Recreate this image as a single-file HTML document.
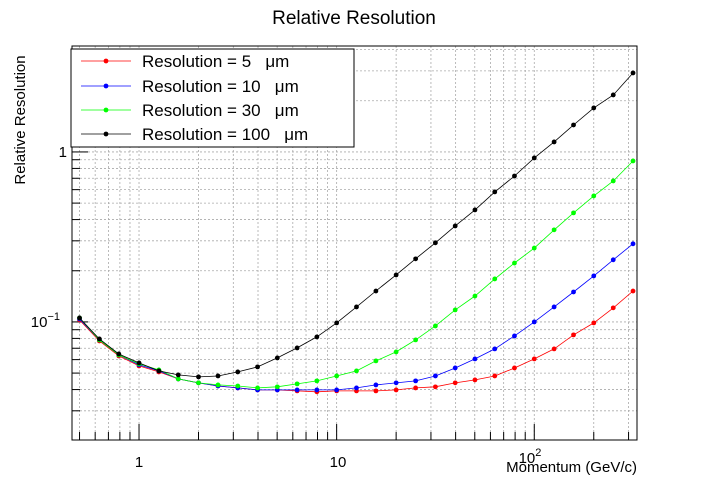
<!DOCTYPE html>
<html><head><meta charset="utf-8"><style>
body{margin:0;background:#fff;}
svg{display:block;font-family:"Liberation Sans",sans-serif;}
text{white-space:pre;}
</style></head><body>
<svg id="chart" width="708" height="489" viewBox="0 0 708 489" xmlns="http://www.w3.org/2000/svg">
<rect x="0" y="0" width="708" height="489" fill="#fff"/>
<text x="354" y="24" text-anchor="middle" font-size="19" fill="#000">Relative Resolution</text>
<g id="grid"></g>
<g id="ticks"></g>
<g id="series"></g>
<rect x="72" y="46" width="565" height="394" fill="none" stroke="#000" stroke-width="1"/>
<text x="139" y="467" text-anchor="middle" font-size="15">1</text>
<text x="338" y="467" text-anchor="middle" font-size="15">10</text>
<text x="530" y="463" text-anchor="middle" font-size="15">10<tspan dy="-7" font-size="11">2</tspan></text>
<text x="637" y="472" text-anchor="end" font-size="15">Momentum (GeV/c)</text>
<text x="67" y="157" text-anchor="end" font-size="15">1</text>
<text x="60" y="327" text-anchor="end" font-size="15">10<tspan dy="-7" font-size="11">−1</tspan></text>
<text transform="translate(25,120) rotate(-90)" text-anchor="middle" font-size="15">Relative Resolution</text>
<g id="legend">
<rect x="71" y="49" width="283" height="98" fill="#fff" stroke="#000" stroke-width="1"/>
</g>
</svg>
<script>
const momenta = [0.5,0.63,0.79,1,1.26,1.58,2,2.51,3.16,3.98,5.01,6.31,7.94,10,12.6,15.8,20,25.1,31.6,39.8,50.1,63.1,79.4,100,126,158,200,251,316];
const res5 = [0.1027,0.0773,0.0631,0.0551,0.0508,0.0462,0.0438,0.0420,0.0409,0.0398,0.0398,0.0393,0.0388,0.0393,0.0393,0.0393,0.0398,0.0409,0.0415,0.0438,0.0456,0.0481,0.0536,0.0606,0.0694,0.0839,0.0987,0.121,0.152];
const res10 = [0.1041,0.0784,0.0640,0.0559,0.0515,0.0462,0.0438,0.0420,0.0409,0.0398,0.0398,0.0398,0.0398,0.0398,0.0409,0.0426,0.0438,0.0450,0.0481,0.0536,0.0606,0.0694,0.0827,0.100,0.1225,0.150,0.1865,0.232,0.288];
const res30 = [0.1056,0.0784,0.0640,0.0566,0.0522,0.0462,0.0438,0.0426,0.0420,0.0409,0.0415,0.0432,0.0450,0.0481,0.0515,0.0590,0.0666,0.0784,0.0947,0.1177,0.142,0.179,0.222,0.272,0.348,0.438,0.551,0.675,0.885];
const res100 = [0.1056,0.0794,0.0648,0.0574,0.0515,0.0488,0.0475,0.0481,0.0508,0.0544,0.0614,0.0703,0.0816,0.0987,0.1225,0.152,0.189,0.235,0.292,0.367,0.456,0.582,0.722,0.922,1.145,1.441,1.815,2.164,2.915];
const seriesNames = ["Resolution = 5   μm","Resolution = 10   μm","Resolution = 30   μm","Resolution = 100   μm"];
const seriesColors = ["#ff0000","#0000ff","#00ff00","#000000"];
const xMin = 0.458, xMax = 331, yMin = 0.0202, yMax = 4.2;
const PL=72, PR=637, PT=46, PB=440;
const NS="http://www.w3.org/2000/svg";
function xs(v){return PL+(Math.log10(v)-Math.log10(xMin))/(Math.log10(xMax)-Math.log10(xMin))*(PR-PL);}
function ys(v){return PB-(Math.log10(v)-Math.log10(yMin))/(Math.log10(yMax)-Math.log10(yMin))*(PB-PT);}
function mk(tag,attrs,parent){const e=document.createElementNS(NS,tag);for(const k in attrs)e.setAttribute(k,attrs[k]);parent.appendChild(e);return e;}
const grid=document.getElementById('grid'), ticks=document.getElementById('ticks'), sg=document.getElementById('series'), lg=document.getElementById('legend');
for(let d=-1;d<=2;d++){for(let m=1;m<=9;m++){const v=m*Math.pow(10,d);if(v<xMin||v>xMax)continue;const x=xs(v);
 const g=mk('line',{x1:x,x2:x,y1:PT,y2:PB,stroke:'#aaa','stroke-width':0.8,'stroke-dasharray':'2,2'},grid);
 
 
 const t=mk('line',{x1:x,x2:x,y1:PB,y2:PB-(m===1?16:8),stroke:'#000','stroke-width':1},ticks);
 
 }}
for(let d=-2;d<=0;d++){for(let m=1;m<=9;m++){const v=m*Math.pow(10,d);if(v<yMin||v>yMax)continue;const y=ys(v);
 const g=mk('line',{x1:PL,x2:PR,y1:y,y2:y,stroke:'#aaa','stroke-width':0.8,'stroke-dasharray':'2,2'},grid);
 
 
 const t=mk('line',{x1:PL,x2:PL+(m===1?16:8),y1:y,y2:y,stroke:'#000','stroke-width':1},ticks);
 
 }}
const allSeries=[res5,res10,res30,res100];
allSeries.forEach((vals,i)=>{
 const g=mk('g',{},sg);
 
 
 const pts=momenta.map((m,j)=>xs(m).toFixed(1)+','+ys(vals[j]).toFixed(1)).join(' ');
 const pl=mk('polyline',{points:pts,fill:'none',stroke:seriesColors[i],'stroke-width':0.8},g);
 
 
 momenta.forEach((m,j)=>{const c=mk('circle',{cx:xs(m),cy:ys(vals[j]),r:2.4,fill:seriesColors[i]},g);
  
  });
});
const legY=[61,86,110,134];
seriesNames.forEach((n,i)=>{
 const g=mk('g',{},lg);
 
 
 mk('line',{x1:81,x2:131,y1:legY[i],y2:legY[i],stroke:seriesColors[i],'stroke-width':0.8},g);
 mk('circle',{cx:106,cy:legY[i],r:2.4,fill:seriesColors[i]},g);
 const t=mk('text',{x:142,y:legY[i]+6,'font-size':17},g);
 t.setAttribute('xml:space','preserve');
 t.textContent=n;
});
</script>
</body></html>
